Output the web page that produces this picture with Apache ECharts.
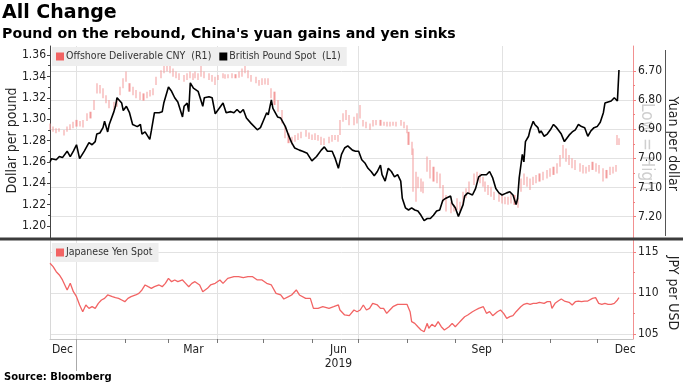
<!DOCTYPE html>
<html><head><meta charset="utf-8">
<script src="https://cdn.jsdelivr.net/npm/echarts@6/dist/echarts.min.js"></script>
<style>html,body{margin:0;padding:0;background:#fff}#chart{width:683px;height:384px}</style>
</head><body><div id="chart"></div>
<script>
const FONT = '"DejaVu Sans Condensed", "DejaVu Sans", sans-serif';
const titleText = 'All Change';
const subtitleText = "Pound on the rebound, China's yuan gains and yen sinks";
const sourceText = 'Source: Bloomberg';
const cnyName = 'Offshore Deliverable CNY  (R1)';
const poundName = 'British Pound Spot  (L1)';
const yenName = 'Japanese Yen Spot';
const firstDay = '2018-12-15';
const dayCount = 375;
const labelDays = {'2018-12-23':'Dec','2019-03-17':'Mar','2019-06-18':'Jun\n2019','2019-09-18':'Sep','2019-12-19':'Dec'};
const gridDays = ['2019-01-01','2019-04-01','2019-07-01','2019-10-01'];
const yearTick = ['2019-01-01'];

// British Pound Spot (dollar per pound)
const poundSpot = [
['2018-12-15',1.260],['2018-12-16',1.263],['2018-12-19',1.262],['2018-12-21',1.265],['2018-12-23',1.264],['2018-12-26',1.270],['2018-12-28',1.265],['2018-12-30',1.270],
['2019-01-01',1.276],['2019-01-03',1.263],['2019-01-04',1.262],['2019-01-06',1.270],['2019-01-09',1.278],['2019-01-11',1.276],['2019-01-13',1.279],['2019-01-14',1.286],['2019-01-16',1.287],['2019-01-18',1.292],['2019-01-19',1.298],['2019-01-21',1.288],['2019-01-22',1.295],['2019-01-25',1.307],['2019-01-26',1.312],['2019-01-27',1.320],['2019-01-30',1.315],['2019-01-31',1.308],
['2019-02-02',1.312],['2019-02-04',1.306],['2019-02-06',1.295],['2019-02-09',1.293],['2019-02-11',1.295],['2019-02-12',1.286],['2019-02-14',1.288],['2019-02-17',1.281],['2019-02-18',1.289],['2019-02-20',1.306],['2019-02-23',1.306],['2019-02-25',1.307],['2019-02-26',1.315],
['2019-03-01',1.330],['2019-03-03',1.326],['2019-03-05',1.320],['2019-03-07',1.316],['2019-03-10',1.302],['2019-03-11',1.312],['2019-03-13',1.315],['2019-03-14',1.307],['2019-03-15',1.334],['2019-03-17',1.329],['2019-03-20',1.326],['2019-03-23',1.312],['2019-03-24',1.320],['2019-03-27',1.321],['2019-03-29',1.320],['2019-03-31',1.305],
['2019-04-02',1.309],['2019-04-05',1.315],['2019-04-07',1.306],['2019-04-10',1.307],['2019-04-12',1.306],['2019-04-14',1.309],['2019-04-16',1.306],['2019-04-18',1.309],['2019-04-20',1.301],['2019-04-23',1.296],['2019-04-27',1.290],['2019-04-29',1.292],
['2019-05-01',1.299],['2019-05-03',1.306],['2019-05-04',1.304],['2019-05-06',1.318],['2019-05-07',1.310],['2019-05-10',1.302],['2019-05-12',1.301],['2019-05-15',1.293],['2019-05-17',1.285],['2019-05-19',1.278],['2019-05-21',1.273],['2019-05-24',1.271],['2019-05-26',1.270],['2019-05-29',1.268],
['2019-06-01',1.261],['2019-06-04',1.265],['2019-06-07',1.271],['2019-06-09',1.274],['2019-06-11',1.270],['2019-06-14',1.270],['2019-06-16',1.263],['2019-06-18',1.254],['2019-06-20',1.267],['2019-06-22',1.273],['2019-06-24',1.275],['2019-06-27',1.271],['2019-06-29',1.270],
['2019-07-01',1.270],['2019-07-03',1.262],['2019-07-05',1.259],['2019-07-07',1.254],['2019-07-09',1.251],['2019-07-11',1.247],['2019-07-13',1.251],['2019-07-15',1.257],['2019-07-16',1.248],['2019-07-18',1.242],['2019-07-20',1.254],['2019-07-22',1.251],['2019-07-24',1.246],['2019-07-26',1.248],['2019-07-28',1.242],['2019-07-29',1.226],['2019-07-31',1.217],
['2019-08-02',1.215],['2019-08-04',1.217],['2019-08-06',1.215],['2019-08-08',1.214],['2019-08-10',1.210],['2019-08-12',1.205],['2019-08-14',1.207],['2019-08-16',1.207],['2019-08-18',1.210],['2019-08-20',1.214],['2019-08-22',1.215],['2019-08-23',1.214],['2019-08-24',1.224],['2019-08-26',1.226],['2019-08-29',1.228],['2019-08-30',1.221],
['2019-09-01',1.217],['2019-09-03',1.209],['2019-09-04',1.208],['2019-09-06',1.220],['2019-09-07',1.228],['2019-09-09',1.231],['2019-09-12',1.229],['2019-09-14',1.235],['2019-09-16',1.246],['2019-09-18',1.248],['2019-09-19',1.249],['2019-09-21',1.248],['2019-09-23',1.251],['2019-09-25',1.245],['2019-09-27',1.235],['2019-09-29',1.231],
['2019-10-01',1.229],['2019-10-04',1.231],['2019-10-06',1.232],['2019-10-08',1.229],['2019-10-10',1.220],['2019-10-11',1.226],['2019-10-12',1.245],['2019-10-14',1.267],['2019-10-15',1.260],['2019-10-16',1.279],['2019-10-18',1.284],['2019-10-19',1.290],['2019-10-21',1.298],['2019-10-22',1.295],['2019-10-24',1.292],['2019-10-25',1.287],['2019-10-26',1.289],['2019-10-28',1.284],['2019-10-30',1.286],
['2019-11-01',1.290],['2019-11-03',1.295],['2019-11-05',1.292],['2019-11-08',1.286],['2019-11-10',1.279],['2019-11-13',1.285],['2019-11-15',1.288],['2019-11-17',1.290],['2019-11-19',1.295],['2019-11-21',1.293],['2019-11-23',1.292],['2019-11-25',1.284],['2019-11-27',1.289],['2019-11-29',1.292],
['2019-12-01',1.293],['2019-12-03',1.297],['2019-12-05',1.306],['2019-12-06',1.315],['2019-12-08',1.316],['2019-12-10',1.317],['2019-12-12',1.320],['2019-12-14',1.317],['2019-12-15',1.346]
];

// Offshore Deliverable CNY (yuan per dollar): [date, low, high]
const cnyRange = [
['2018-12-15',6.880,6.903],['2018-12-17',6.891,6.909],['2018-12-19',6.897,6.914],['2018-12-21',6.897,6.909],['2018-12-24',6.903,6.922],['2018-12-26',6.891,6.909],['2018-12-28',6.883,6.903],['2018-12-30',6.874,6.897],
['2019-01-01',6.868,6.891],['2019-01-03',6.872,6.891],['2019-01-05',6.868,6.894],['2019-01-08',6.845,6.872],['2019-01-10',6.840,6.863],['2019-01-12',6.800,6.834],['2019-01-14',6.742,6.777],['2019-01-16',6.748,6.777],['2019-01-18',6.759,6.794],['2019-01-20',6.783,6.811],['2019-01-22',6.800,6.828],['2019-01-25',6.806,6.834],['2019-01-27',6.794,6.823],['2019-01-29',6.754,6.783],['2019-01-31',6.725,6.759],
['2019-02-02',6.702,6.737],['2019-02-04',6.742,6.771],['2019-02-06',6.754,6.783],['2019-02-08',6.765,6.794],['2019-02-11',6.771,6.800],['2019-02-13',6.777,6.802],['2019-02-15',6.771,6.794],['2019-02-17',6.765,6.788],['2019-02-19',6.759,6.783],['2019-02-21',6.720,6.748],['2019-02-24',6.697,6.725],['2019-02-26',6.679,6.708],['2019-02-28',6.674,6.702],
['2019-03-02',6.682,6.708],['2019-03-04',6.691,6.720],['2019-03-06',6.702,6.725],['2019-03-08',6.708,6.731],['2019-03-11',6.714,6.737],['2019-03-13',6.708,6.731],['2019-03-15',6.702,6.725],['2019-03-17',6.708,6.731],['2019-03-18',6.702,6.725],['2019-03-20',6.708,6.731],['2019-03-22',6.679,6.720],['2019-03-24',6.702,6.725],['2019-03-27',6.708,6.731],['2019-03-29',6.714,6.737],['2019-03-31',6.720,6.748],
['2019-04-02',6.714,6.731],['2019-04-05',6.708,6.725],['2019-04-06',6.711,6.727],['2019-04-08',6.711,6.725],['2019-04-11',6.708,6.725],['2019-04-13',6.711,6.725],['2019-04-15',6.702,6.723],['2019-04-17',6.691,6.720],['2019-04-19',6.679,6.708],['2019-04-21',6.697,6.725],['2019-04-23',6.714,6.737],['2019-04-26',6.720,6.742],['2019-04-28',6.731,6.751],['2019-04-30',6.725,6.748],
['2019-05-02',6.725,6.746],['2019-05-04',6.725,6.748],['2019-05-06',6.759,6.794],['2019-05-08',6.771,6.817],['2019-05-10',6.800,6.840],['2019-05-13',6.834,6.880],['2019-05-15',6.886,6.931],['2019-05-17',6.914,6.948],['2019-05-19',6.926,6.954],['2019-05-21',6.920,6.943],['2019-05-23',6.914,6.937],['2019-05-25',6.909,6.931],['2019-05-28',6.903,6.926],['2019-05-30',6.911,6.934],
['2019-06-01',6.918,6.937],['2019-06-03',6.914,6.937],['2019-06-05',6.920,6.940],['2019-06-07',6.926,6.954],['2019-06-09',6.931,6.954],['2019-06-12',6.926,6.948],['2019-06-14',6.920,6.943],['2019-06-16',6.920,6.937],['2019-06-18',6.920,6.943],['2019-06-19',6.868,6.920],['2019-06-21',6.845,6.874],['2019-06-23',6.834,6.868],['2019-06-25',6.851,6.886],['2019-06-28',6.857,6.886],['2019-06-30',6.845,6.880],
['2019-07-02',6.817,6.863],['2019-07-04',6.868,6.891],['2019-07-06',6.874,6.897],['2019-07-08',6.880,6.903],['2019-07-10',6.868,6.891],['2019-07-12',6.868,6.886],['2019-07-15',6.868,6.888],['2019-07-17',6.874,6.888],['2019-07-19',6.874,6.891],['2019-07-21',6.874,6.891],['2019-07-23',6.874,6.888],['2019-07-25',6.874,6.891],['2019-07-28',6.868,6.888],['2019-07-30',6.874,6.897],
['2019-08-01',6.886,6.914],['2019-08-02',6.909,6.954],['2019-08-04',6.943,6.989],['2019-08-05',6.966,7.115],['2019-08-07',7.046,7.149],['2019-08-08',7.063,7.103],['2019-08-10',7.069,7.115],['2019-08-11',7.080,7.120],['2019-08-14',6.994,7.046],['2019-08-16',7.006,7.069],['2019-08-18',7.029,7.080],['2019-08-20',7.046,7.086],['2019-08-22',7.052,7.103],['2019-08-24',7.092,7.149],['2019-08-26',7.126,7.183],['2019-08-29',7.149,7.189],['2019-08-31',7.160,7.183],
['2019-09-02',7.137,7.178],['2019-09-04',7.149,7.183],['2019-09-06',7.115,7.160],['2019-09-08',7.103,7.137],['2019-09-10',7.080,7.120],['2019-09-13',7.052,7.092],['2019-09-15',7.046,7.080],['2019-09-17',7.052,7.086],['2019-09-19',7.063,7.098],['2019-09-20',7.080,7.115],['2019-09-22',7.092,7.126],['2019-09-24',7.098,7.132],['2019-09-26',7.115,7.143],['2019-09-29',7.120,7.149],
['2019-10-01',7.126,7.155],['2019-10-03',7.132,7.158],['2019-10-05',7.132,7.160],['2019-10-07',7.120,7.155],['2019-10-09',7.126,7.160],['2019-10-11',7.137,7.170],['2019-10-13',7.069,7.115],['2019-10-15',7.052,7.092],['2019-10-17',7.063,7.098],['2019-10-19',7.069,7.109],['2019-10-21',7.063,7.092],['2019-10-23',7.057,7.086],['2019-10-25',7.052,7.080],['2019-10-27',7.046,7.075],['2019-10-30',7.040,7.069],
['2019-11-01',7.034,7.063],['2019-11-03',7.029,7.057],['2019-11-05',7.017,7.052],['2019-11-07',6.989,7.029],['2019-11-09',6.954,7.000],['2019-11-11',6.966,7.012],['2019-11-13',6.989,7.023],['2019-11-15',7.000,7.034],['2019-11-17',7.006,7.040],['2019-11-20',7.017,7.046],['2019-11-22',7.023,7.052],['2019-11-24',7.029,7.052],['2019-11-26',7.023,7.046],['2019-11-28',7.012,7.040],['2019-11-30',7.017,7.046],
['2019-12-02',7.023,7.052],['2019-12-05',7.034,7.080],['2019-12-07',7.040,7.069],['2019-12-09',7.029,7.057],['2019-12-11',7.029,7.052],['2019-12-13',7.023,7.046],['2019-12-14',6.920,6.954],['2019-12-15',6.931,6.954]
];

// Japanese Yen Spot (JPY per USD)
const yenSpot = [
['2018-12-15',113.62],['2018-12-17',113.21],['2018-12-19',112.60],['2018-12-21',112.20],['2018-12-23',111.59],['2018-12-26',110.37],['2018-12-28',111.18],['2018-12-30',110.16],
['2019-01-01',109.55],['2019-01-03',108.54],['2019-01-05',107.72],['2019-01-07',108.54],['2019-01-09',108.13],['2019-01-11',108.33],['2019-01-13',108.13],['2019-01-15',108.74],['2019-01-17',109.15],['2019-01-19',109.35],['2019-01-21',109.76],['2019-01-24',109.55],['2019-01-26',109.43],['2019-01-28',109.35],['2019-01-30',109.15],
['2019-02-01',108.94],['2019-02-03',109.35],['2019-02-05',109.55],['2019-02-08',109.76],['2019-02-10',109.96],['2019-02-12',110.37],['2019-02-14',110.98],['2019-02-16',110.77],['2019-02-18',110.57],['2019-02-20',110.77],['2019-02-23',110.98],['2019-02-25',110.77],['2019-02-27',111.18],
['2019-03-01',111.79],['2019-03-03',111.38],['2019-03-05',111.59],['2019-03-07',111.38],['2019-03-10',111.59],['2019-03-12',111.18],['2019-03-14',110.77],['2019-03-16',111.18],['2019-03-18',111.38],['2019-03-21',110.98],['2019-03-23',110.16],['2019-03-26',110.57],['2019-03-28',110.98],['2019-03-31',111.18],
['2019-04-03',111.59],['2019-04-05',111.18],['2019-04-08',111.79],['2019-04-12',111.99],['2019-04-15',111.99],['2019-04-18',111.87],['2019-04-21',111.99],['2019-04-24',111.99],['2019-04-27',111.59],['2019-04-30',111.59],
['2019-05-03',111.18],['2019-05-06',110.98],['2019-05-09',109.96],['2019-05-12',109.76],['2019-05-14',109.27],['2019-05-17',109.55],['2019-05-19',109.76],['2019-05-22',110.37],['2019-05-24',109.76],['2019-05-28',109.35],['2019-05-31',109.35],
['2019-06-02',108.13],['2019-06-05',108.13],['2019-06-08',108.33],['2019-06-12',108.13],['2019-06-15',108.33],['2019-06-18',108.54],['2019-06-19',107.93],['2019-06-22',107.32],['2019-06-25',107.23],['2019-06-28',107.93],['2019-06-30',107.72],
['2019-07-02',107.93],['2019-07-04',108.54],['2019-07-06',107.93],['2019-07-08',108.13],['2019-07-10',108.74],['2019-07-13',108.54],['2019-07-15',108.13],['2019-07-17',108.13],['2019-07-19',107.52],['2019-07-21',107.93],['2019-07-23',108.33],['2019-07-26',108.62],['2019-07-30',108.62],
['2019-08-01',108.62],['2019-08-03',107.72],['2019-08-04',106.50],['2019-08-06',106.30],['2019-08-08',105.89],['2019-08-10',105.49],['2019-08-12',105.28],['2019-08-14',106.30],['2019-08-15',105.70],['2019-08-17',106.18],['2019-08-19',105.89],['2019-08-21',106.50],['2019-08-23',105.89],['2019-08-25',105.49],['2019-08-28',105.89],['2019-08-30',106.30],
['2019-09-01',105.89],['2019-09-03',106.30],['2019-09-05',106.71],['2019-09-07',107.11],['2019-09-09',107.32],['2019-09-12',107.72],['2019-09-14',107.93],['2019-09-16',108.13],['2019-09-19',108.33],['2019-09-21',107.52],['2019-09-23',107.72],['2019-09-25',107.23],['2019-09-28',107.72],['2019-09-30',107.93],
['2019-10-02',107.52],['2019-10-04',106.91],['2019-10-06',107.11],['2019-10-08',107.23],['2019-10-10',107.72],['2019-10-13',108.33],['2019-10-15',108.62],['2019-10-17',108.74],['2019-10-19',108.62],['2019-10-21',108.74],['2019-10-23',108.74],['2019-10-25',108.87],['2019-10-28',108.74],['2019-10-30',108.94],
['2019-11-01',108.94],['2019-11-02',108.13],['2019-11-04',108.74],['2019-11-06',109.02],['2019-11-08',109.27],['2019-11-10',109.02],['2019-11-13',108.87],['2019-11-15',108.54],['2019-11-17',108.94],['2019-11-19',109.02],['2019-11-21',108.94],['2019-11-23',109.02],['2019-11-25',109.02],['2019-11-28',109.35],['2019-11-30',109.43],
['2019-12-02',108.74],['2019-12-04',108.62],['2019-12-06',108.74],['2019-12-08',108.62],['2019-12-10',108.62],['2019-12-12',108.74],['2019-12-14',109.15],['2019-12-15',109.43]
];

// calendar-day categories
const days = [];
const d0 = new Date(firstDay + 'T00:00:00Z').getTime();
for (let i = 0; i < dayCount; i++) days.push(new Date(d0 + i * 86400000).toISOString().slice(0, 10));
const dayIndex = {};
days.forEach((d, i) => { dayIndex[d] = i; });
const isMonthStart = (i, v) => v.slice(8) === '01';

const chart = echarts.init(document.getElementById('chart'), null, {renderer: 'canvas'});
const L = 50, R = 50;
const mkGrid = (top, height) => ({left: L, right: R, top: top, height: height, containLabel: false, outerBoundsMode: 'none'});
const hiddenX = g => ({gridIndex: g, type: 'category', data: days, boundaryGap: false, show: false});
const txt = {fontFamily: FONT, color: '#222'};
const legendIcon = c => ({color: c, borderWidth: 0, borderColor: c});

chart.setOption({
  animation: false,
  backgroundColor: '#fff',
  textStyle: {fontFamily: FONT},
  title: {
    text: titleText, subtext: subtitleText, left: 2, top: 4, itemGap: 4, padding: 0,
    textStyle: {fontFamily: '"DejaVu Sans", sans-serif', fontWeight: 'bold', fontSize: 19, color: '#000'},
    subtextStyle: {fontFamily: '"DejaVu Sans", sans-serif', fontWeight: 'bold', fontSize: 14.2, color: '#000'}
  },
  legend: [
    {data: [{name: cnyName, icon: 'rect', itemStyle: legendIcon('#f26464')}, {name: poundName, icon: 'rect', itemStyle: legendIcon('#000')}],
     left: 52, top: 47, backgroundColor: '#eeeeee', padding: [4, 6, 4, 4], itemWidth: 8, itemHeight: 8, itemGap: 8,
     selectedMode: false, textStyle: {fontFamily: FONT, fontSize: 10.5, color: '#333', padding: [0, 0, 0, -3]}},
    {data: [{name: yenName, icon: 'rect', itemStyle: legendIcon('#f26464')}],
     left: 52, top: 243, backgroundColor: '#eeeeee', padding: [4, 6, 4, 4], itemWidth: 8, itemHeight: 8,
     selectedMode: false, textStyle: {fontFamily: FONT, fontSize: 10.5, color: '#333', padding: [0, 0, 0, -3]}}
  ],
  grid: [
    mkGrid(46, 293),    // 0 frame
    mkGrid(46, 192),    // 1 top panel frame
    mkGrid(55, 171),    // 2 pound scale
    mkGrid(71, 145.5),  // 3 CNY scale
    mkGrid(252, 82),    // 4 yen scale
    mkGrid(241, 98)     // 5 bottom panel frame
  ],
  xAxis: [
    {gridIndex: 0, type: 'category', data: days, boundaryGap: false,
     axisLine: {show: true, lineStyle: {color: '#c4c4c4'}},
     axisTick: {show: true, interval: isMonthStart, length: 4, lineStyle: {color: '#777'}},
     axisLabel: {interval: (i, v) => v in labelDays, formatter: v => labelDays[v] || '', margin: 4,
                 fontSize: 12, lineHeight: 14, ...txt},
     splitLine: {show: true, interval: (i, v) => gridDays.includes(v), lineStyle: {color: '#e2e2e2'}}},
    {gridIndex: 0, type: 'category', data: days, boundaryGap: false, position: 'bottom',
     axisLine: {show: false}, axisLabel: {show: false}, splitLine: {show: false},
     axisTick: {show: true, interval: (i, v) => yearTick.includes(v), length: 32, lineStyle: {color: '#aaa'}}},
    hiddenX(1), hiddenX(2), hiddenX(3), hiddenX(4), hiddenX(5)
  ],
  yAxis: [
    {gridIndex: 0, type: 'value', position: 'right', min: 0, max: 1,
     axisLine: {show: true, onZero: false, lineStyle: {color: '#f29090'}},
     axisTick: {show: false}, axisLabel: {show: false}, splitLine: {show: false}},
    {gridIndex: 1, type: 'value', position: 'left', min: 0, max: 1,
     axisLine: {show: true, onZero: false, lineStyle: {color: '#444'}},
     axisTick: {show: false}, axisLabel: {show: false}, splitLine: {show: false}},
    {gridIndex: 2, type: 'value', position: 'left', min: 1.20, max: 1.36, interval: 0.02,
     axisLine: {show: false}, axisTick: {show: true, length: 3, lineStyle: {color: '#444'}},
     minorTick: {show: true, splitNumber: 2, length: 2, lineStyle: {color: '#444'}},
     axisLabel: {formatter: v => v.toFixed(2), margin: 4, fontSize: 12, ...txt},
     splitLine: {show: false},
     name: 'Dollar per pound', nameLocation: 'middle', nameRotate: 90, nameGap: 31, nameMoveOverlap: false,
     nameTextStyle: {fontSize: 14, ...txt}},
    {gridIndex: 3, type: 'value', position: 'right', inverse: true, min: 6.70, max: 7.20, interval: 0.1,
     axisLine: {show: false}, axisTick: {show: true, length: 3, lineStyle: {color: '#f08080'}},
     minorTick: {show: true, splitNumber: 2, length: 2, lineStyle: {color: '#f08080'}},
     axisLabel: {formatter: v => v.toFixed(2), margin: 5, fontSize: 12, ...txt},
     splitLine: {show: true, lineStyle: {color: '#e2e2e2'}},
     name: 'Yuan per dollar', nameLocation: 'middle', nameRotate: -90, nameGap: 33, nameMoveOverlap: false,
     nameTextStyle: {fontSize: 14, ...txt}},
    {gridIndex: 4, type: 'value', position: 'right', min: 105, max: 115, interval: 5,
     axisLine: {show: false}, axisTick: {show: true, length: 3, lineStyle: {color: '#f08080'}},
     minorTick: {show: true, splitNumber: 2, length: 2, lineStyle: {color: '#f08080'}},
     axisLabel: {margin: 5, fontSize: 12, ...txt},
     splitLine: {show: true, lineStyle: {color: '#e2e2e2'}},
     name: 'JPY per USD', nameLocation: 'middle', nameRotate: -90, nameGap: 33, nameMoveOverlap: false,
     nameTextStyle: {fontSize: 14, ...txt}},
    {gridIndex: 5, type: 'value', position: 'left', min: 0, max: 1,
     axisLine: {show: true, onZero: false, lineStyle: {color: '#d8d8d8'}},
     axisTick: {show: false}, axisLabel: {show: false}, splitLine: {show: false}}
  ],
  series: [
    {name: cnyName, type: 'candlestick', xAxisIndex: 4, yAxisIndex: 3, clip: false, barWidth: 1.6,
     encode: {x: 0, y: [1, 2, 3, 4]},
     itemStyle: {color: '#f39c9c', color0: '#f39c9c', borderColor: '#f39c9c', borderColor0: '#f39c9c', borderWidth: 0},
     data: cnyRange.map(r => [dayIndex[r[0]], r[1], r[2], r[1], r[2]])},
    {name: poundName, type: 'line', xAxisIndex: 3, yAxisIndex: 2, clip: false, showSymbol: false,
     lineStyle: {color: '#000', width: 1.6}, itemStyle: {color: '#000'}, z: 5,
     data: poundSpot.map(p => [dayIndex[p[0]], p[1]])},
    {name: yenName, type: 'line', xAxisIndex: 5, yAxisIndex: 4, clip: false, showSymbol: false,
     lineStyle: {color: '#f26464', width: 1.3}, itemStyle: {color: '#f26464'},
     data: yenSpot.map(p => [dayIndex[p[0]], p[1]])}
  ],
  graphic: [
    {type: 'line', shape: {x1: 0, y1: 239, x2: 683, y2: 239}, style: {stroke: '#3c3c3c', lineWidth: 3}, z: 10},
    {type: 'line', shape: {x1: 665.5, y1: 50, x2: 665.5, y2: 236}, style: {stroke: '#555', lineWidth: 1}},
    {type: 'text', x: 646, y: 147, rotation: -Math.PI / 2,
     style: {text: 'Low = High', fill: '#cfcfcf', font: '17px ' + FONT, textAlign: 'center', textVerticalAlign: 'middle'}},
    {type: 'text', left: 4, top: 372,
     style: {text: sourceText, fill: '#000', font: 'bold 10px "DejaVu Sans", sans-serif'}}
  ]
});
</script></body></html>
